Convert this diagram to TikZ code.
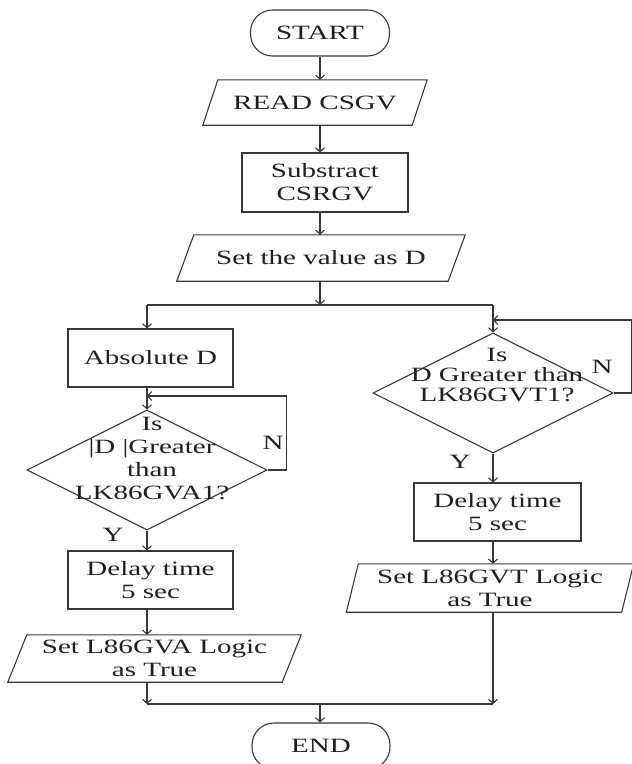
\documentclass[tikz,border=0pt]{standalone}
\usepackage{fontspec}
\setmainfont{Liberation Serif}[FakeStretch=1.43]
\usetikzlibrary{arrows.meta,shapes.geometric,calc}

% slanted input/output box drawn around a plain rectangular node
\newcommand\drawpara[2]{%
  \draw[line] ($(#1.south west)+(-#2pt,0pt)$) -- ($(#1.south east)+(-#2pt,0pt)$)
    -- ($(#1.north east)+(#2pt,0pt)$) -- ($(#1.north west)+(#2pt,0pt)$) -- cycle;}

\begin{document}
\begin{tikzpicture}[x=1pt,y=-1pt,
  line/.style={draw=black!78, line width=1.1pt},
  arr/.style={line, -{Straight Barb[length=4pt,width=9pt]}},
  txt/.style={text=black!88, font=\fontsize{20.3}{23}\selectfont, align=center, inner sep=0pt},
  box/.style={txt, line, rectangle},
  io/.style={txt, rectangle},
  terminal/.style={txt, line, rectangle, rounded corners=22pt, minimum width=139pt, minimum height=46pt},
  decision/.style={line, diamond, inner sep=0pt, minimum width=240pt, minimum height=120pt}
]
\useasboundingbox (0,0) rectangle (632,764);

% main column
\node[terminal] (start) at (320,33) {START};
\node[io, minimum width=209pt, minimum height=45pt] (read) at (315,102.5) {READ CSGV};
\drawpara{read}{7.5}
\node[box, minimum width=166pt, minimum height=59pt] (sub) at (325,182.5) {Substract\\CSRGV};
\node[io, minimum width=271pt, minimum height=46pt] (setd) at (321,258) {Set the value as D};
\drawpara{setd}{8.5}

% left branch
\node[box, minimum width=165pt, minimum height=58pt] (absd) at (150.5,358) {Absolute D};
\node[decision] (dga) at (147,470) {};
\node[txt] (dgatext) at (152,458) {Is\\|D |Greater\\than\\LK86GVA1?};
\node[box, minimum width=165pt, minimum height=58pt] (dla) at (150.5,580) {Delay time\\5 sec};
\node[io, minimum width=274pt, minimum height=47pt] (pla) at (154.5,658.5) {Set L86GVA Logic\\as True};
\drawpara{pla}{9.5}

% right branch
\node[decision] (dgt) at (493,393) {};
\node[txt, font=\fontsize{20.3}{20}\selectfont] (dgttext) at (497,375) {Is\\D Greater than\\LK86GVT1?};
\node[box, minimum width=167pt, minimum height=58pt] (dlt) at (497.5,512) {Delay time\\5 sec};
\node[io, minimum width=275pt, minimum height=48pt] (plt) at (490,588) {Set L86GVT Logic\\as True};
\drawpara{plt}{6}

\node[terminal, minimum width=138pt] (end) at (321,746) {END};

% branch labels
\node[txt] (nl) at (273,443) {N};
\node[txt] (yl) at (113,535) {Y};
\node[txt] (nr) at (602,367) {N};
\node[txt] (yr) at (460,462) {Y};

% junction points
\coordinate (split) at (320,305);
\coordinate (join) at (320,704);
\coordinate (lloop) at (147,396);
\coordinate (rloop) at (493,320);

% main column connectors
\draw[arr] (start.south -| split) -- (read.north -| split);
\draw[arr] (read.south -| split) -- (sub.north -| split);
\draw[arr] (sub.south -| split) -- (setd.north -| split);
\draw[arr] (setd.south -| split) -- (split);
\draw[line] (dga.north |- split) -- (dgt.north |- split);

% left branch connectors
\draw[arr] (dga.north |- split) -- (dga.north |- absd.north);
\draw[arr] (dga.north |- absd.south) -- (dga.north);
\draw[arr] (dga.east) -- ++(19,0) |- (lloop);
\draw[arr] (dga.south) -- (dga.south |- dla.north);
\draw[arr] (dga.south |- dla.south) -- (dga.south |- pla.north);
\draw[arr] (dga.south |- pla.south) -- (dga.south |- join);

% right branch connectors
\draw[arr] (dgt.north |- split) -- (dgt.north);
\draw[arr] (dgt.east) -- ++(18,0) |- (rloop);
\draw[arr] (dgt.south) -- (dgt.south |- dlt.north);
\draw[arr] (dgt.south |- dlt.south) -- (dgt.south |- plt.north);
\draw[arr] (dgt.south |- plt.south) -- (dgt.south |- join);

% merge into END
\draw[line] (dga.south |- join) -- (dgt.south |- join);
\draw[arr] (join) -- (join |- end.north);
\end{tikzpicture}
\end{document}
